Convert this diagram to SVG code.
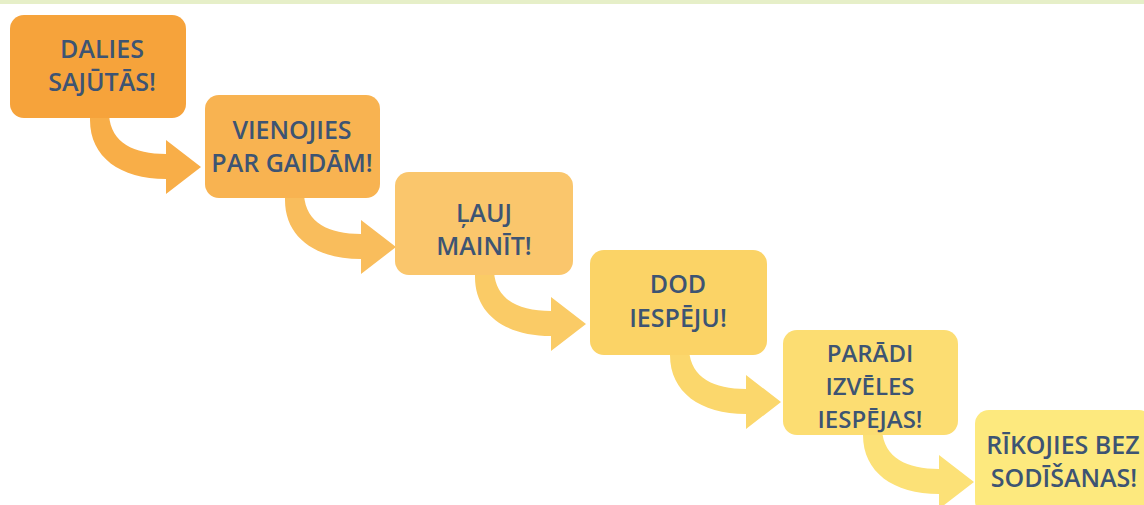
<svg xmlns="http://www.w3.org/2000/svg" width="1144" height="505" viewBox="0 0 1144 505">
  <style>
    .box { stroke: none; }
    .lbl { font-family: "Open Sans", "Liberation Sans", sans-serif; font-weight: 600; font-size: 25px; fill: #3D5473; text-anchor: middle; }
    .sm { font-size: 24px; }
  </style>
  <defs>
    <path id="arr" d="M 80 100 L 80 105 C 80 142 110 164 156 164 L 156 179 L 191 152 L 156 125 L 156 139 C 124 139 101 128 99 100 Z"/>
  </defs>
  <rect x="0" y="0" width="1144" height="505" fill="#FFFFFF"/>
  <rect x="0" y="0" width="1144" height="4" fill="#E6EFC8"/>

  <g id="connectors">
    <use href="#arr" transform="translate(10,15)" fill="#F8AE48"/>
    <use href="#arr" transform="translate(205,95)" fill="#F9BD5C"/>
    <use href="#arr" transform="translate(395,172)" fill="#FACB66"/>
    <use href="#arr" transform="translate(590,250)" fill="#FBD76C"/>
    <use href="#arr" transform="translate(783,330)" fill="#FCE177"/>
  </g>

  <g id="node1">
    <rect class="box" x="10" y="15" width="176" height="103" rx="14" fill="#F6A33B"/>
    <text class="lbl" x="102" y="58">DALIES</text>
    <text class="lbl" x="102" y="91">SAJŪTĀS!</text>
  </g>
  <g id="node2">
    <rect class="box" x="205" y="95" width="175" height="103" rx="14" fill="#F8B351"/>
    <text class="lbl" x="292" y="139">VIENOJIES</text>
    <text class="lbl" x="292" y="172">PAR GAIDĀM!</text>
  </g>
  <g id="node3">
    <rect class="box" x="395" y="172" width="178" height="103" rx="14" fill="#FAC66C"/>
    <text class="lbl" x="484" y="222">ĻAUJ</text>
    <text class="lbl" x="484" y="255">MAINĪT!</text>
  </g>
  <g id="node4">
    <rect class="box" x="590" y="250" width="177" height="105" rx="14" fill="#FBD366"/>
    <text class="lbl" x="678" y="293">DOD</text>
    <text class="lbl" x="678" y="327">IESPĒJU!</text>
  </g>
  <g id="node5">
    <rect class="box" x="783" y="330" width="175" height="105" rx="14" fill="#FCDD72"/>
    <text class="lbl sm" x="870" y="362">PARĀDI</text>
    <text class="lbl sm" x="870" y="395">IZVĒLES</text>
    <text class="lbl sm" x="870" y="428">IESPĒJAS!</text>
  </g>
  <g id="node6">
    <rect class="box" x="975" y="410" width="178" height="105" rx="14" fill="#FDE97E"/>
    <text class="lbl" x="1063" y="454">RĪKOJIES BEZ</text>
    <text class="lbl" x="1064" y="487">SODĪŠANAS!</text>
  </g>
</svg>
